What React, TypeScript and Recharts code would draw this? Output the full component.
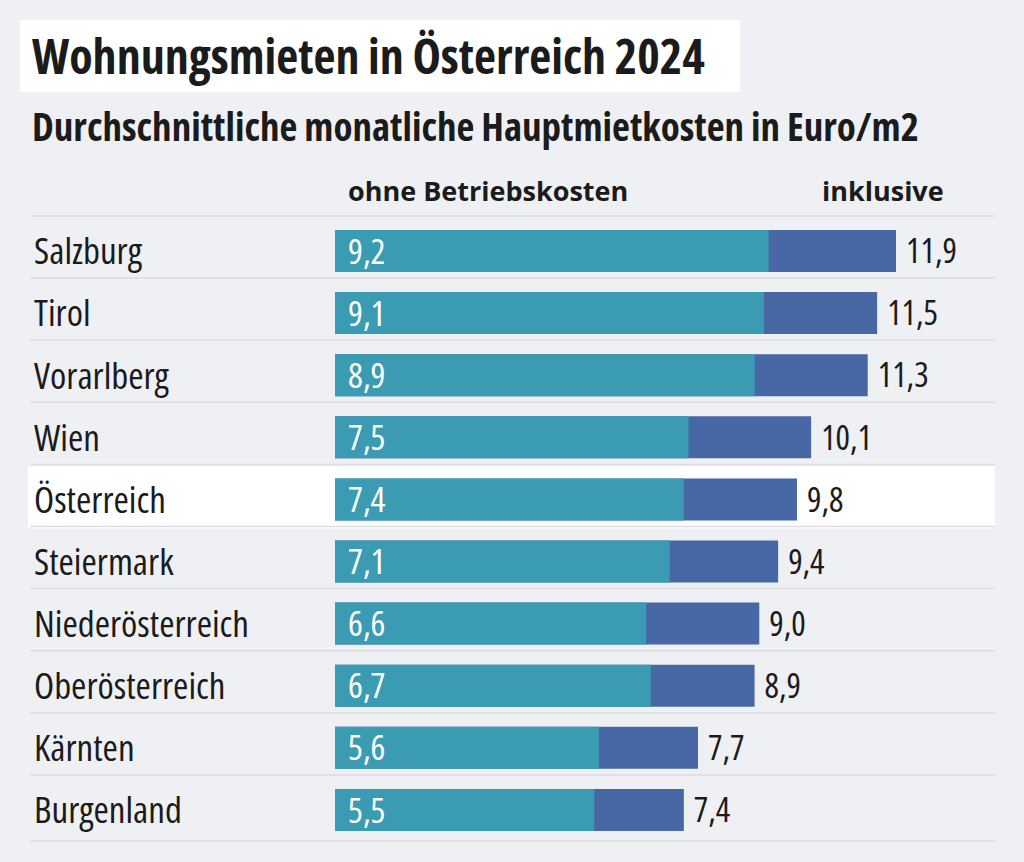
import React from "react";
import { BarChart, Bar, XAxis, YAxis, LabelList, ReferenceArea } from "recharts";

const regions = ["Salzburg", "Tirol", "Vorarlberg", "Wien", "Österreich", "Steiermark", "Niederösterreich", "Oberösterreich", "Kärnten", "Burgenland"];
const ohneBK = [9.2, 9.1, 8.9, 7.5, 7.4, 7.1, 6.6, 6.7, 5.6, 5.5];
const inklusiveBK = [11.9, 11.5, 11.3, 10.1, 9.8, 9.4, 9.0, 8.9, 7.7, 7.4];
const highlighted = "Österreich";

const data = regions.map((name, i) => ({ name, ohne: ohneBK[i], inkl: inklusiveBK[i] }));

const FONT = "'Open Sans', 'Liberation Sans Narrow', 'DejaVu Sans Condensed', sans-serif";
const TEAL = "#3a9bb3";
const BLUE = "#4767a5";
const BG = "#eff0f4";
const TXT = "#1b1b1b";
const fmt = (v: number) => v.toFixed(1).replace(".", ",");

const W = 1024;
const H = 862;
const M = { top: 220, right: 29, bottom: 21, left: 35 };
const BAND = (H - M.top - M.bottom) / regions.length;

const CategoryTick = (props: any) => {
  const { y, payload, index } = props;
  const top = y - BAND / 2;
  return (
    <g>
      <line x1={30} x2={995} y1={top - 4} y2={top - 4} stroke="#dcdde1" strokeWidth={1.5} />
      {index === regions.length - 1 && <line x1={30} x2={995} y1={top + BAND} y2={top + BAND} stroke="#dcdde1" strokeWidth={1.5} />}
      <text x={34} y={y} dy="0.36em" fontSize={37} fill={TXT} fontFamily={FONT} style={{ fontStretch: "75%" }}>
        {payload.value}
      </text>
    </g>
  );
};

const HighlightShape = (props: any) => {
  const { y, height } = props;
  return <rect x={28} y={y - 2} width={967} height={height} fill="#ffffff" />;
};

const InnerLabel = (props: any) => {
  const { x, y, height, value } = props;
  return (
    <text x={x + 13} y={y + height / 2} dy="0.36em" fill="#ffffff" fontSize={35} fontFamily={FONT} style={{ fontStretch: "75%" }}>
      {fmt(value)}
    </text>
  );
};

const OuterLabel = (props: any) => {
  const { x, y, width, height, value } = props;
  return (
    <text x={x + width + 10} y={y + height / 2} dy="0.36em" fill={TXT} fontSize={34} fontFamily={FONT} style={{ fontStretch: "75%" }}>
      {fmt(value)}
    </text>
  );
};

export default function App() {
  return (
    <div style={{ position: "absolute", left: 0, top: 0, width: W, height: H, background: BG, fontFamily: FONT, overflow: "hidden" }}>
      <div style={{ position: "absolute", left: 20, top: 20, width: 720, height: 72, background: "#ffffff" }} />
      <div style={{ position: "absolute", left: 32, top: 27, fontSize: 48, fontWeight: 700, color: TXT, fontStretch: "75%", lineHeight: "58px", whiteSpace: "nowrap" }}>
        Wohnungsmieten in Österreich 2024
      </div>
      <div style={{ position: "absolute", left: 32, top: 102, fontSize: 39, fontWeight: 700, color: TXT, fontStretch: "75%", lineHeight: "48px", whiteSpace: "nowrap" }}>
        Durchschnittliche monatliche Hauptmietkosten in Euro/m2
      </div>
      <div style={{ position: "absolute", left: 348, top: 173, fontSize: 27, fontWeight: 700, color: TXT, fontStretch: "90%", lineHeight: "36px", whiteSpace: "nowrap" }}>
        ohne Betriebskosten
      </div>
      <div style={{ position: "absolute", left: 822, top: 173, fontSize: 27, fontWeight: 700, color: TXT, fontStretch: "90%", lineHeight: "36px", whiteSpace: "nowrap" }}>
        inklusive
      </div>
      <div style={{ position: "absolute", left: 0, top: 0 }}>
        <BarChart width={W} height={H} data={data} layout="vertical" margin={M} barSize={42} barGap={-42} barCategoryGap={20}>
          <XAxis type="number" domain={[0, 14]} hide />
          <YAxis type="category" dataKey="name" width={300} axisLine={false} tickLine={false} tick={<CategoryTick />} interval={0} />
          <ReferenceArea y1={highlighted} y2={highlighted} ifOverflow="visible" shape={<HighlightShape />} />
          <Bar dataKey="inkl" fill={BLUE} isAnimationActive={false}>
            <LabelList dataKey="inkl" content={<OuterLabel />} />
          </Bar>
          <Bar dataKey="ohne" fill={TEAL} isAnimationActive={false}>
            <LabelList dataKey="ohne" content={<InnerLabel />} />
          </Bar>
        </BarChart>
      </div>
    </div>
  );
}
